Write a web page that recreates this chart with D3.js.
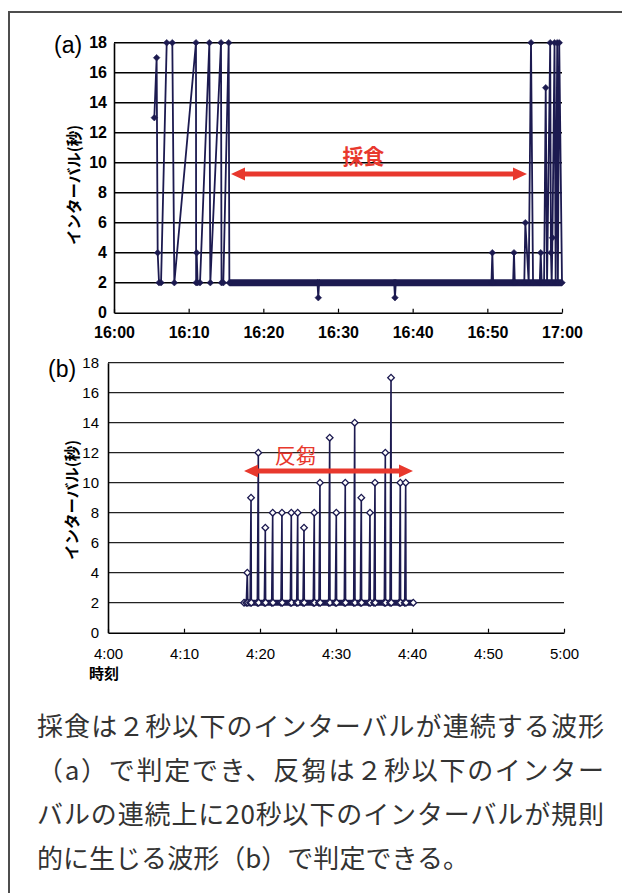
<!DOCTYPE html>
<html>
<head>
<meta charset="utf-8">
<script src="https://cdn.jsdelivr.net/npm/d3@7"></script>
<style>
  body { margin: 0; background: #fff; }
  svg { display: block; }
</style>
</head>
<body>
<svg id="chart" width="622" height="893"></svg>
<script>
// ---- data (minutes after the hour, interval in seconds) ----
var yTicks = [0, 2, 4, 6, 8, 10, 12, 14, 16, 18];
var xTicks = [0, 10, 20, 30, 40, 50, 60];
var aXLabels = ["16:00", "16:10", "16:20", "16:30", "16:40", "16:50", "17:00"];
var bXLabels = ["4:00", "4:10", "4:20", "4:30", "4:40", "4:50", "5:00"];

// (a) feeding: isolated points + spikes out of the 2-sec run
var aTimes  = [5.40, 5.71, 5.85, 6.03, 6.30, 7.06, 7.81, 8.08, 10.98, 11.00, 11.07, 11.20, 11.52,
               12.77, 12.90, 14.33, 14.40, 14.64, 15.36, 15.45,
               27.25, 27.36, 27.47, 37.52, 37.63, 37.74,
               50.55, 50.67, 50.78, 53.45, 53.57, 53.68, 54.95, 55.09, 55.54, 55.85, 56.12,
               57.02, 57.15, 57.28, 57.60, 57.82, 58.00, 58.42, 58.52, 58.62, 58.72, 59.00, 59.15,
               59.36, 59.45, 59.63, 60.00];
var aValues = [13, 17, 4, 2, 2, 18, 18, 2, 18, 2, 4, 2, 2,
               18, 2, 18, 2, 2, 18, 2,
               2, 1, 2, 2, 1, 2,
               2, 4, 2, 2, 4, 2, 2, 6, 2, 18, 2,
               2, 4, 2, 2, 15, 2, 18, 4, 2, 5, 18, 2,
               18, 2, 18, 2];
var aRun = [15.45, 60.00];   // continuous run of 2-sec intervals

// (b) rumination: 2-sec run with regular spikes
var bTimes  = [17.90, 18.20, 18.33, 18.40, 18.70, 18.82, 18.86, 19.65, 19.78, 19.82,
               20.57, 20.70, 20.74, 21.54, 21.67, 21.71, 22.76, 22.89, 22.93,
               23.99, 24.12, 24.16, 24.83, 24.96, 25.00, 25.66, 25.79, 25.83,
               27.01, 27.14, 27.18, 27.76, 27.89, 27.93, 29.04, 29.17, 29.21,
               29.91, 30.04, 30.08, 31.09, 31.22, 31.26, 32.33, 32.46, 32.50,
               33.20, 33.33, 33.37, 34.34, 34.47, 34.51, 35.00, 35.13, 35.17,
               36.36, 36.49, 36.53, 37.11, 37.24, 37.28, 38.33, 38.46, 38.50,
               39.04, 39.17, 39.21, 40.17];
var bValues = [2, 2, 4, 2, 2, 9, 2, 2, 12, 2,
               2, 7, 2, 2, 8, 2, 2, 8, 2,
               2, 8, 2, 2, 8, 2, 2, 7, 2,
               2, 8, 2, 2, 10, 2, 2, 13, 2,
               2, 8, 2, 2, 10, 2, 2, 14, 2,
               2, 9, 2, 2, 8, 2, 2, 10, 2,
               2, 12, 2, 2, 17, 2, 2, 10, 2,
               2, 10, 2, 2];
var bRun = [17.90, 40.17];

var navy = "#1c1a50";
var red = "#e8382d";
var latin = "'Liberation Sans Narrow', 'Liberation Sans', Arial, sans-serif";
var jp = "'Noto Sans CJK JP', 'Noto Sans', sans-serif";

var svg = d3.select("#chart");
svg.append("rect").attr("width", 622).attr("height", 893).attr("fill", "#fff");

// frame
svg.append("path")
  .attr("d", "M9,893 V12 H622")
  .attr("fill", "none")
  .attr("stroke", "#4d4d4d")
  .attr("stroke-width", 2);

function drawPanel(cfg) {
  var x = d3.scaleLinear().domain([0, 60]).range([cfg.left, cfg.right]);
  var y = d3.scaleLinear().domain([0, 18]).range([cfg.bottom, cfg.top]);
  var g = svg.append("g");

  // gridlines
  g.selectAll(".grid")
    .data(yTicks.filter(function(d) { return d > 0; }))
    .enter().append("line")
    .attr("x1", cfg.left).attr("x2", cfg.right)
    .attr("y1", function(d) { return y(d); })
    .attr("y2", function(d) { return y(d); })
    .attr("stroke", cfg.gridColor)
    .attr("stroke-width", cfg.gridWidth);

  // x axis, ticks pointing up
  var xa = g.append("g")
    .attr("transform", "translate(0," + cfg.bottom + ")")
    .call(d3.axisBottom(x).tickValues(xTicks).tickSizeInner(-4).tickSizeOuter(0)
      .tickFormat(function(d, i) { return cfg.xLabels[i]; }));
  xa.select(".domain").attr("stroke", "#000").attr("stroke-width", 1.6);
  xa.selectAll(".tick line").attr("stroke", "#000").attr("stroke-width", 1.2);
  xa.selectAll("text")
    .attr("y", cfg.xLabelDy).attr("dy", "0.35em")
    .attr("fill", "#000")
    .style("font-family", cfg.tickFont)
    .style("font-size", cfg.tickSize)
    .style("font-weight", cfg.tickWeight);

  // y axis
  var ya = g.append("g")
    .attr("transform", "translate(" + cfg.left + ",0)")
    .call(d3.axisLeft(y).tickValues(yTicks).tickSize(0).tickPadding(cfg.yPad));
  ya.select(".domain").attr("stroke", "#000").attr("stroke-width", 1.6);
  ya.selectAll("text")
    .attr("fill", "#000")
    .style("font-family", cfg.tickFont)
    .style("font-size", cfg.tickSize)
    .style("font-weight", cfg.tickWeight);

  // y title
  g.append("text")
    .attr("transform", "translate(" + cfg.yTitleX + "," + cfg.yTitleY + ") rotate(-90)")
    .attr("text-anchor", "middle")
    .attr("dy", "0.35em")
    .style("font-family", jp)
    .style("font-size", "15.5px")
    .style("font-weight", "bold")
    .text("インターバル(秒)");

  // panel tag
  g.append("text")
    .attr("x", cfg.tagX).attr("y", cfg.tagY)
    .attr("dy", "0.35em")
    .style("font-family", "'Liberation Sans', Arial, sans-serif")
    .style("font-size", "23px")
    .text(cfg.tag);

  // continuous 2-sec run
  g.append("line")
    .attr("x1", x(cfg.run[0])).attr("x2", x(cfg.run[1]))
    .attr("y1", y(2)).attr("y2", y(2))
    .attr("stroke", navy)
    .attr("stroke-width", cfg.runWidth);

  var pts = cfg.times.map(function(t, i) { return { t: t, v: cfg.values[i] }; });

  g.append("path")
    .datum(pts)
    .attr("fill", "none")
    .attr("stroke", navy)
    .attr("stroke-width", cfg.lineWidth)
    .attr("stroke-linejoin", "round")
    .attr("d", d3.line()
      .x(function(d) { return x(d.t); })
      .y(function(d) { return y(d.v); }));

  g.selectAll(".mark")
    .data(pts)
    .enter().append("path")
    .attr("d", d3.symbol(d3.symbolSquare, cfg.markSize))
    .attr("transform", function(d) {
      return "translate(" + x(d.t) + "," + y(d.v) + ") rotate(45)";
    })
    .attr("fill", cfg.markFill)
    .attr("stroke", navy)
    .attr("stroke-width", cfg.markStroke);

  // red double arrow with label
  var ay = y(cfg.arrowValue), x1 = x(cfg.arrow[0]), x2 = x(cfg.arrow[1]);
  g.append("line")
    .attr("x1", x1 + 10).attr("x2", x2 - 10)
    .attr("y1", ay).attr("y2", ay)
    .attr("stroke", red).attr("stroke-width", 5);
  g.append("path")
    .attr("d", "M" + x1 + "," + ay + " l14,-6.5 v13 Z M" + x2 + "," + ay + " l-14,-6.5 v13 Z")
    .attr("fill", red);
  g.append("text")
    .attr("x", x(cfg.labelT)).attr("y", y(cfg.labelV))
    .attr("text-anchor", "middle")
    .attr("dy", "0.35em")
    .attr("fill", red)
    .style("font-family", jp)
    .style("font-size", "21px")
    .style("font-weight", cfg.labelWeight)
    .text(cfg.label);

  return g;
}

drawPanel({
  left: 114, right: 562, top: 42.7, bottom: 312.7,
  gridColor: "#000", gridWidth: 1.6,
  xLabels: aXLabels, xLabelDy: 20, yPad: 7,
  tickFont: latin, tickWeight: "bold", tickSize: "16px",
  yTitleX: 75, yTitleY: 185,
  tag: "(a)", tagX: 54, tagY: 45,
  times: aTimes, values: aValues, run: aRun, runWidth: 7,
  lineWidth: 1.8, markSize: 22, markFill: navy, markStroke: 0.5,
  arrow: [15.67, 55.31], arrowValue: 9.25,
  label: "採食", labelT: 33.4, labelV: 10.4, labelWeight: "bold"
});

var pb = drawPanel({
  left: 108, right: 564, top: 362.7, bottom: 632.7,
  gridColor: "#222", gridWidth: 1.3,
  xLabels: bXLabels, xLabelDy: 21, yPad: 9,
  tickFont: "'Liberation Sans', Arial, sans-serif", tickWeight: "normal", tickSize: "15px",
  yTitleX: 73, yTitleY: 500,
  tag: "(b)", tagX: 48, tagY: 369,
  times: bTimes, values: bValues, run: bRun, runWidth: 6,
  lineWidth: 1.6, markSize: 22, markFill: "#fff", markStroke: 1.3,
  arrow: [17.9, 40.13], arrowValue: 10.78,
  label: "反芻", labelT: 24.7, labelV: 11.8, labelWeight: "normal"
});

pb.append("text")
  .attr("x", 104).attr("y", 674)
  .attr("text-anchor", "middle")
  .attr("dy", "0.35em")
  .style("font-family", jp)
  .style("font-size", "15px")
  .style("font-weight", "bold")
  .text("時刻");

// caption
var caption = [
  "採食は２秒以下のインターバルが連続する波形",
  "（a）で判定でき、反芻は２秒以下のインター",
  "バルの連続上に20秒以下のインターバルが規則",
  "的に生じる波形（b）で判定できる。"
];
var capWidths = [567, 567, 567, 432];
svg.selectAll(".cap")
  .data(caption)
  .enter().append("text")
  .attr("x", 37)
  .attr("y", function(d, i) { return 727 + i * 44; })
  .attr("dy", "0.35em")
  .attr("textLength", function(d, i) { return capWidths[i]; })
  .attr("lengthAdjust", "spacing")
  .attr("fill", "#333")
  .style("font-family", jp)
  .style("font-size", "26px")
  .text(function(d) { return d; });
</script>
</body>
</html>
